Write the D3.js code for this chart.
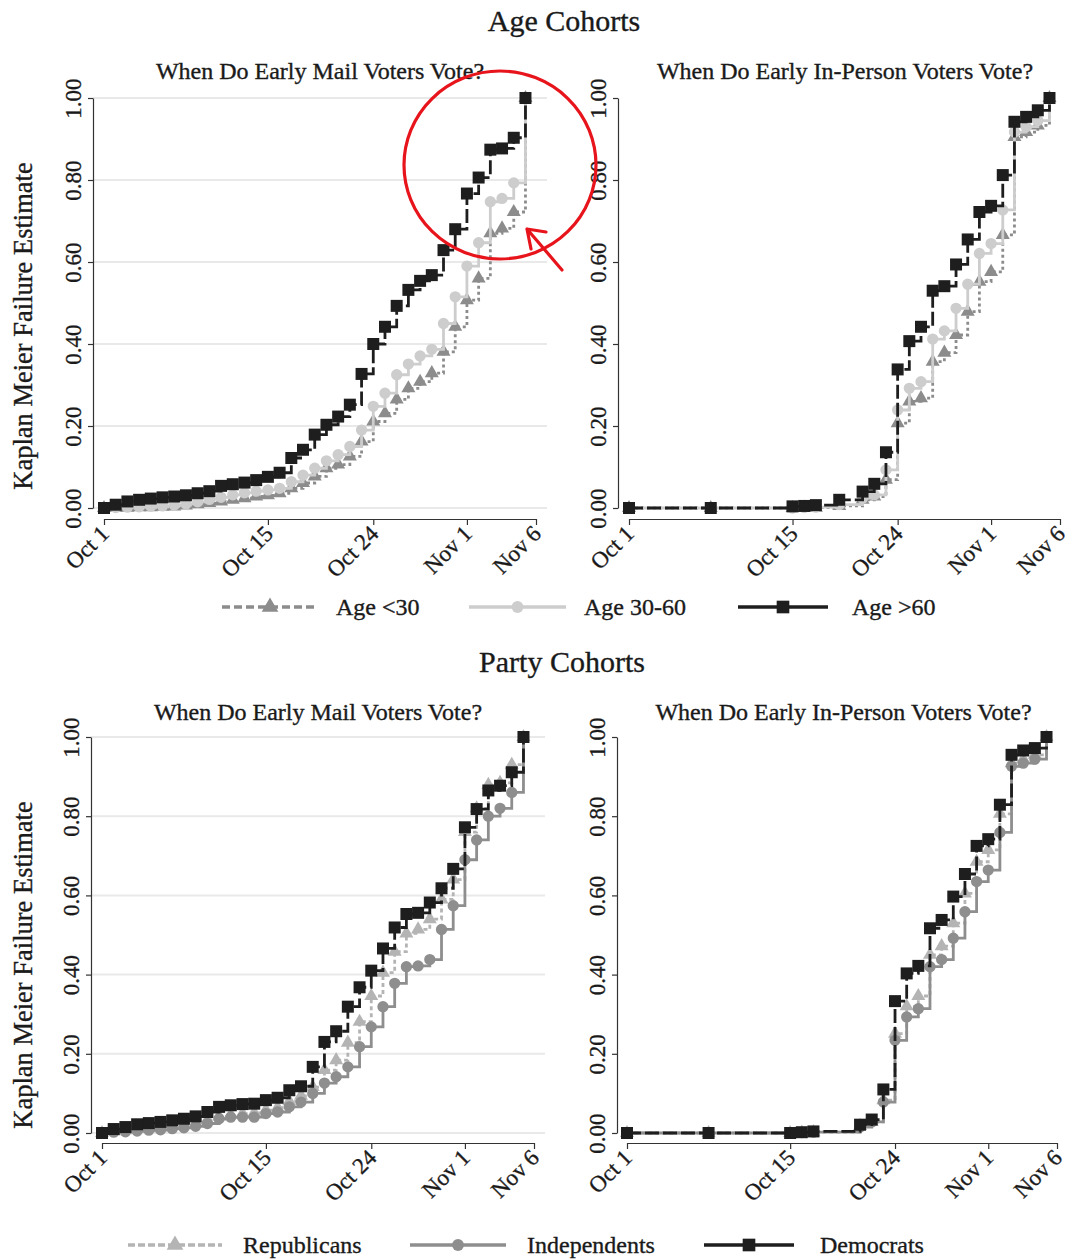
<!DOCTYPE html>
<html>
<head>
<meta charset="utf-8">
<script src="https://cdnjs.cloudflare.com/ajax/libs/d3/7.8.5/d3.min.js"></script>
<style>
  body { margin: 0; background: #fff; }
  svg text { font-family: "Liberation Serif", "Times New Roman", serif; fill: #1a1a1a;
    stroke: #1a1a1a; stroke-width: 0.35px; }
</style>
</head>
<body>
<script>
// x positions are days since Oct 1
var tickDays = [0, 14, 23, 31, 36.9];
var tickLabels = ["Oct 1", "Oct 15", "Oct 24", "Nov 1", "Nov 6"];
var yTicks = [0, 0.2, 0.4, 0.6, 0.8, 1.0];

var mailDays = [0, 1, 2, 3, 4, 5, 6, 7, 8, 9, 10, 11, 12, 13, 14, 15, 16, 17, 18,
  19, 20, 21, 22, 23, 24, 25, 26, 27, 28, 29, 30, 31, 32, 33, 34, 35, 36];
var ageInPersonDays = [0, 7, 14, 15, 16, 18, 20, 21, 22, 23, 24, 25, 26, 27, 28,
  29, 30, 31, 32, 33, 34, 35, 36];
var partyInPersonDays = [0, 7, 14, 15, 16, 20, 21, 22, 23, 24, 25, 26, 27, 28,
  29, 30, 31, 32, 33, 34, 35, 36];

// Age cohorts, mail
var ageUnder30Mail = [0, .001, .001, .002, .002, .003, .004, .006, .009, .012, .016, .020,
  .024, .028, .031, .036, .048, .061, .077, .097, .106, .126, .162, .211, .231, .265, .292,
  .308, .329, .381, .442, .507, .560, .670, .682, .722, 1.0];
var age30to60Mail = [0, .001, .002, .003, .004, .005, .007, .010, .015, .021, .026, .032,
  .037, .041, .044, .048, .064, .080, .097, .115, .130, .150, .190, .248, .280, .325, .351,
  .371, .387, .450, .515, .590, .647, .747, .755, .793, 1.0];
var ageOver60Mail = [0, .008, .016, .020, .023, .026, .028, .031, .036, .041, .054, .058,
  .062, .068, .076, .086, .122, .142, .179, .203, .223, .252, .327, .400, .442, .493, .532,
  .554, .568, .629, .680, .767, .806, .874, .877, .903, 1.0];

// Age cohorts, in person
var ageUnder30InPerson = [0, 0, 0, .001, .001, .005, .020, .028, .069, .207, .260, .268,
  .357, .379, .422, .479, .552, .576, .666, .905, .917, .933, 1.0];
var age30to60InPerson = [0, 0, 0, .001, .002, .008, .024, .032, .093, .239, .292, .308,
  .412, .432, .487, .546, .621, .645, .727, .917, .930, .945, 1.0];
var ageOver60InPerson = [0, 0, .004, .005, .007, .020, .040, .059, .136, .338, .407, .442,
  .530, .541, .594, .655, .722, .737, .812, .942, .954, .970, 1.0];

// Party cohorts, mail
var repMail = [0, .004, .007, .010, .012, .014, .017, .020, .026, .033, .042, .046, .049,
  .051, .058, .064, .080, .094, .116, .159, .184, .228, .281, .346, .405, .458, .504, .514,
  .540, .590, .640, .760, .820, .879, .884, .930, 1.0];
var indMail = [0, .002, .003, .005, .007, .008, .011, .013, .017, .024, .036, .040, .040,
  .040, .049, .053, .066, .078, .100, .126, .142, .167, .218, .268, .319, .378, .420, .422,
  .438, .514, .574, .690, .740, .800, .820, .860, 1.0];
var demMail = [0, .010, .015, .022, .025, .028, .032, .036, .042, .053, .066, .070, .073,
  .074, .083, .089, .108, .118, .167, .230, .257, .319, .368, .410, .466, .519, .553, .556,
  .582, .618, .667, .772, .818, .865, .877, .911, 1.0];

// Party cohorts, in person
var repInPerson = [0, 0, 0, .001, .002, .018, .028, .083, .251, .320, .346, .450, .472,
  .530, .605, .685, .715, .806, .934, .944, .955, 1.0];
var indInPerson = [0, 0, 0, .001, .002, .015, .028, .078, .234, .293, .314, .420, .438,
  .492, .559, .635, .664, .759, .926, .934, .944, 1.0];
var demInPerson = [0, 0, 0, .002, .004, .021, .034, .110, .333, .403, .422, .517, .538,
  .597, .654, .725, .742, .829, .955, .966, .972, 1.0];

var ageNames = ["Age <30", "Age 30-60", "Age >60"];
var partyNames = ["Republicans", "Independents", "Democrats"];

var ageStyles = [
  { color: "#8c8c8c", dash: "3,3", legendDash: "8,4", marker: d3.symbolTriangle, size: 85, legendSize: 120 },
  { color: "#cdcdcd", dash: null, legendDash: null, marker: d3.symbolCircle, size: 100, legendSize: 110 },
  { color: "#1e1e1e", dash: "14,4", legendDash: null, marker: d3.symbolSquare, size: 144, legendSize: 160 }
];
var partyStyles = [
  { color: "#b4b4b4", dash: "4,3", legendDash: "7,3", marker: d3.symbolTriangle, size: 85, legendSize: 120 },
  { color: "#8e8e8e", dash: null, legendDash: null, marker: d3.symbolCircle, size: 100, legendSize: 110 },
  { color: "#1e1e1e", dash: "14,4", legendDash: null, marker: d3.symbolSquare, size: 144, legendSize: 160 }
];

var width = 1074, height = 1260;
var svg = d3.select("body").append("svg")
  .attr("width", width)
  .attr("height", height);

function drawPanel(p) {
  var g = svg.append("g");
  var x = d3.scaleLinear().domain([tickDays[0], tickDays[tickDays.length - 1]]).range([p.x0, p.x1]);
  var y = d3.scaleLinear().domain([0, 1]).range([p.yBottom, p.yTop]);

  if (p.grid) {
    g.selectAll(".grid").data(yTicks).enter().append("line")
      .attr("x1", p.axisX).attr("x2", p.gridEnd)
      .attr("y1", d => y(d)).attr("y2", d => y(d))
      .attr("stroke", "#e9e9e9").attr("stroke-width", 2);
  }

  var yAxis = g.append("g")
    .attr("transform", "translate(" + p.axisX + ",0)")
    .call(d3.axisLeft(y).tickValues(yTicks).tickSize(5).tickSizeOuter(0).tickFormat(d3.format(".2f")));
  yAxis.selectAll("text")
    .attr("x", 0).attr("y", 0).attr("dy", 0)
    .attr("text-anchor", "middle")
    .attr("transform", "translate(-12,0) rotate(-90)")
    .style("font-size", "23px");

  var xAxis = g.append("g")
    .attr("transform", "translate(0," + p.axisY + ")")
    .call(d3.axisBottom(x).tickValues(tickDays).tickSize(6).tickSizeOuter(0)
      .tickFormat((d, i) => tickLabels[i]));
  xAxis.selectAll("text")
    .attr("x", 0).attr("y", 0).attr("dy", 0)
    .attr("text-anchor", "end")
    .attr("transform", "translate(6,16) rotate(-45)")
    .style("font-size", "23px");

  g.selectAll(".domain, .tick line").attr("stroke", "#333").attr("stroke-width", 1.2);

  var line = d3.line().curve(d3.curveStepAfter)
    .x(d => x(d.day)).y(d => y(d.v));

  p.series.forEach(function(vals, k) {
    var st = p.styles[k];
    var pts = vals.map((v, i) => ({ day: p.days[i], v: v }));
    g.append("path")
      .datum(pts)
      .attr("fill", "none")
      .attr("stroke", st.color)
      .attr("stroke-width", 2.8)
      .attr("stroke-dasharray", st.dash)
      .attr("d", line);
    g.selectAll(".m" + k).data(pts).enter().append("path")
      .attr("transform", d => "translate(" + x(d.day) + "," + y(d.v) + ")")
      .attr("d", d3.symbol().type(st.marker).size(st.size))
      .attr("fill", st.color);
  });

  svg.append("text")
    .attr("x", (p.axisX + p.gridEnd) / 2)
    .attr("y", p.titleY)
    .attr("text-anchor", "middle")
    .style("font-size", "24px")
    .text(p.title);
}

function drawLegend(items, styles, layout) {
  var g = svg.append("g");
  items.forEach(function(name, k) {
    var st = styles[k];
    var L = layout[k];
    g.append("line")
      .attr("x1", L.x0).attr("x2", L.x1)
      .attr("y1", layout.y).attr("y2", layout.y)
      .attr("stroke", st.color).attr("stroke-width", 3.6)
      .attr("stroke-dasharray", st.legendDash);
    g.append("path")
      .attr("transform", "translate(" + (L.x0 + L.x1) / 2 + "," + layout.y + ")")
      .attr("d", d3.symbol().type(st.marker).size(st.legendSize))
      .attr("fill", st.color);
    g.append("text")
      .attr("x", L.tx).attr("y", layout.y + 8)
      .style("font-size", "24px")
      .text(name);
  });
}

function yTitle(cy) {
  svg.append("text")
    .attr("text-anchor", "middle")
    .attr("transform", "translate(32," + cy + ") rotate(-90)")
    .style("font-size", "26.5px")
    .text("Kaplan Meier Failure Estimate");
}

function bigTitle(txt, cx, by) {
  svg.append("text")
    .attr("x", cx).attr("y", by)
    .attr("text-anchor", "middle")
    .style("font-size", "30px")
    .text(txt);
}

// ---- Age cohorts ----
bigTitle("Age Cohorts", 564, 31);
yTitle(326);

drawPanel({
  title: "When Do Early Mail Voters Vote?", titleY: 79,
  x0: 104, x1: 536, yTop: 98, yBottom: 508, axisX: 93, axisY: 519, gridEnd: 547, grid: true,
  days: mailDays, series: [ageUnder30Mail, age30to60Mail, ageOver60Mail], styles: ageStyles
});
drawPanel({
  title: "When Do Early In-Person Voters Vote?", titleY: 79,
  x0: 629, x1: 1060, yTop: 98, yBottom: 508, axisX: 618, axisY: 519, gridEnd: 1072, grid: false,
  days: ageInPersonDays, series: [ageUnder30InPerson, age30to60InPerson, ageOver60InPerson], styles: ageStyles
});

var ageLegend = [
  { x0: 222, x1: 318, tx: 336 },
  { x0: 469, x1: 566, tx: 584 },
  { x0: 738, x1: 828, tx: 852 }
];
ageLegend.y = 607;
drawLegend(ageNames, ageStyles, ageLegend);

// annotation
svg.append("ellipse")
  .attr("cx", 500).attr("cy", 165).attr("rx", 96).attr("ry", 94)
  .attr("fill", "none").attr("stroke", "#e8141c").attr("stroke-width", 3.2);
svg.append("path")
  .attr("d", "M562,270L527,229M527,229L531,249M527,229L546,232")
  .attr("fill", "none").attr("stroke", "#e8141c").attr("stroke-width", 3.2)
  .attr("stroke-linecap", "round");

// ---- Party cohorts ----
bigTitle("Party Cohorts", 562, 672);
yTitle(965);

drawPanel({
  title: "When Do Early Mail Voters Vote?", titleY: 720,
  x0: 102, x1: 534, yTop: 737, yBottom: 1133, axisX: 91, axisY: 1143, gridEnd: 545, grid: true,
  days: mailDays, series: [repMail, indMail, demMail], styles: partyStyles
});
drawPanel({
  title: "When Do Early In-Person Voters Vote?", titleY: 720,
  x0: 627, x1: 1057, yTop: 737, yBottom: 1133, axisX: 617, axisY: 1143, gridEnd: 1070, grid: false,
  days: partyInPersonDays, series: [repInPerson, indInPerson, demInPerson], styles: partyStyles
});

var partyLegend = [
  { x0: 128, x1: 222, tx: 243 },
  { x0: 410, x1: 506, tx: 527 },
  { x0: 704, x1: 794, tx: 820 }
];
partyLegend.y = 1245;
drawLegend(partyNames, partyStyles, partyLegend);
</script>
</body>
</html>
